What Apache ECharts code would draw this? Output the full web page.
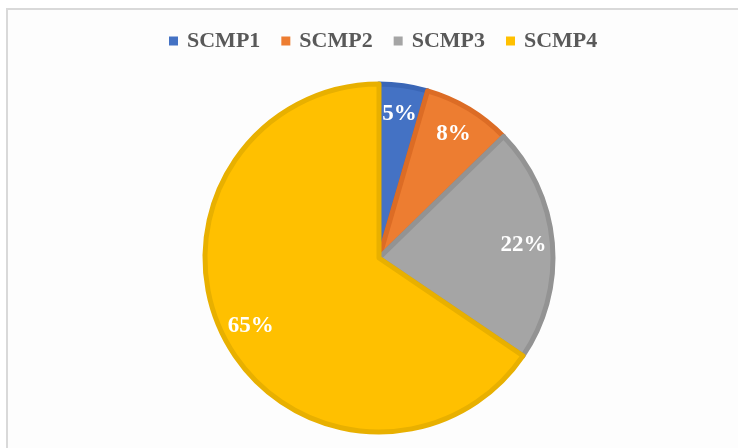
<!DOCTYPE html>
<html>
<head>
<meta charset="utf-8">
<script src="https://cdn.jsdelivr.net/npm/echarts@6/dist/echarts.min.js"></script>
<style>
  html, body { margin: 0; padding: 0; background: #fff; }
  #frame { position: absolute; left: 6px; top: 8px; width: 732px; height: 440px;
           border-left: 2px solid #d9d9d9; border-top: 2px solid #d9d9d9; background: #fdfdfd; }
  #chart { position: absolute; left: 0; top: 0; width: 738px; height: 448px; }
</style>
</head>
<body>
<div id="frame"></div>
<div id="chart"></div>
<script>
// slice names, shares and the printed labels
var names = ['SCMP1', 'SCMP2', 'SCMP3', 'SCMP4'];
var shares = [4.5, 8.2, 21.8, 65.5];
var labels = ['5%', '8%', '22%', '65%'];
var fills = ['#4472C4', '#ED7D31', '#A5A5A5', '#FFC000'];
var edges = ['#3A66B6', '#DC6C25', '#939393', '#E8B000'];

var chart = echarts.init(document.getElementById('chart'), null, { renderer: 'canvas' });

var pieData = names.map(function (n, i) {
    return { name: n, value: shares[i], itemStyle: { color: fills[i], borderColor: edges[i] } };
});
var labelData = names.map(function (n, i) {
    return { name: n, value: shares[i], label: { formatter: labels[i] } };
});

var option = {
    animation: false,
    legend: {
        top: 25,
        left: 164,
        icon: 'rect',
        itemWidth: 9,
        itemHeight: 9,
        itemGap: 21,
        itemStyle: { borderWidth: 0 },
        data: names,
        textStyle: {
            fontFamily: 'Liberation Serif',
            fontWeight: 'bold',
            fontSize: 22,
            color: '#595959',
            padding: [0, 0, 0, 4]
        }
    },
    series: [
        {
            name: 'share',
            type: 'pie',
            center: [379, 258],
            radius: [0, 174],
            startAngle: 90,
            clockwise: true,
            silent: true,
            itemStyle: { borderWidth: 5 },
            label: { show: false },
            labelLine: { show: false },
            data: pieData
        },
        {
            // transparent ring only used to place the labels near the rim
            name: 'labels',
            type: 'pie',
            center: [379, 258],
            radius: [110, 174],
            startAngle: 90,
            clockwise: true,
            silent: true,
            itemStyle: { color: 'rgba(0,0,0,0)', borderWidth: 0 },
            label: {
                show: true,
                position: 'inside',
                color: '#ffffff',
                fontFamily: 'Liberation Serif',
                fontWeight: 'bold',
                fontSize: 23
            },
            labelLine: { show: false },
            data: labelData
        }
    ]
};
chart.setOption(option);
window.addEventListener('resize', function () {
    chart.resize();
});
</script>
</body>
</html>
